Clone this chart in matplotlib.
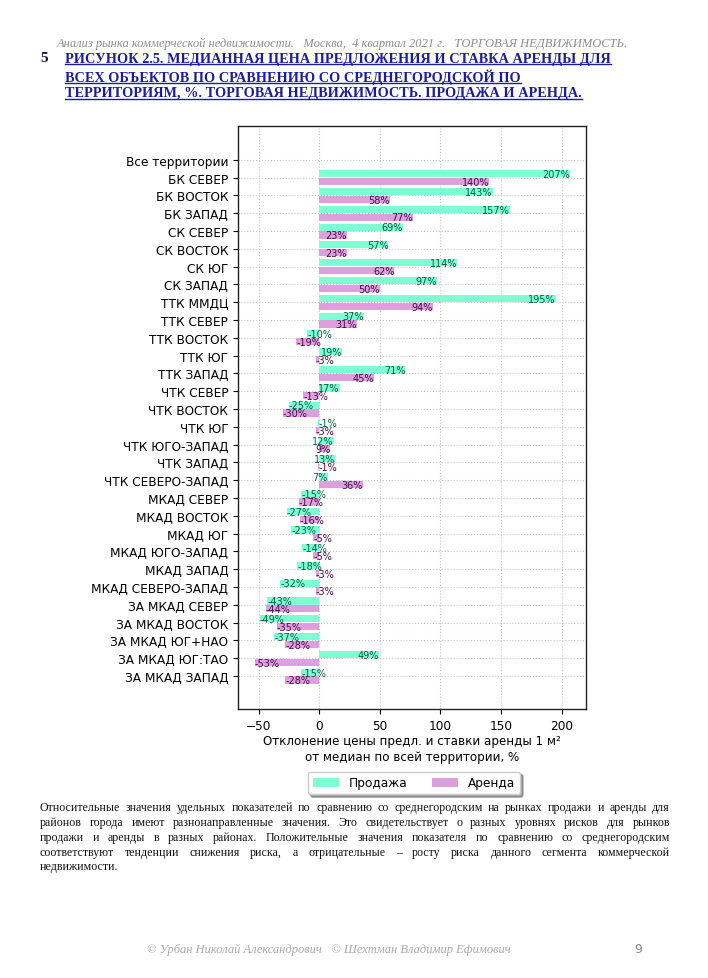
import numpy as np
import matplotlib
matplotlib.use("Agg")
import matplotlib.pyplot as plt
from matplotlib.lines import Line2D

categories = ["Все территории", "БК СЕВЕР", "БК ВОСТОК", "БК ЗАПАД", "СК СЕВЕР",
              "СК ВОСТОК", "СК ЮГ", "СК ЗАПАД", "ТТК ММДЦ", "ТТК СЕВЕР",
              "ТТК ВОСТОК", "ТТК ЮГ", "ТТК ЗАПАД", "ЧТК СЕВЕР", "ЧТК ВОСТОК",
              "ЧТК ЮГ", "ЧТК ЮГО-ЗАПАД", "ЧТК ЗАПАД", "ЧТК СЕВЕРО-ЗАПАД",
              "МКАД СЕВЕР", "МКАД ВОСТОК", "МКАД ЮГ", "МКАД ЮГО-ЗАПАД",
              "МКАД ЗАПАД", "МКАД СЕВЕРО-ЗАПАД", "ЗА МКАД СЕВЕР",
              "ЗА МКАД ВОСТОК", "ЗА МКАД ЮГ+НАО", "ЗА МКАД ЮГ:ТАО", "ЗА МКАД ЗАПАД"]
sale = [0, 207, 143, 157, 69, 57, 114, 97, 195, 37,
        -10, 19, 71, 17, -25, -1, 12, 13, 7,
        -15, -27, -23, -14, -18, -32, -43, -49, -37, 49, -15]
rent = [0, 140, 58, 77, 23, 23, 62, 50, 94, 31,
        -19, -3, 45, -13, -30, -3, 9, -1, 36,
        -17, -16, -5, -5, -3, -3, -44, -35, -28, -53, -28]
series_names = ["Продажа", "Аренда"]
xticks = [-50, 0, 50, 100, 150, 200]

header = "Анализ рынка коммерческой недвижимости.   Москва,  4 квартал 2021 г.   ТОРГОВАЯ НЕДВИЖИМОСТЬ."
title_lines = ["РИСУНОК 2.5. МЕДИАННАЯ ЦЕНА ПРЕДЛОЖЕНИЯ И СТАВКА АРЕНДЫ ДЛЯ",
               "ВСЕХ ОБЪЕКТОВ ПО СРАВНЕНИЮ СО СРЕДНЕГОРОДСКОЙ ПО",
               "ТЕРРИТОРИЯМ, %. ТОРГОВАЯ НЕДВИЖИМОСТЬ. ПРОДАЖА И АРЕНДА."]
para_lines = ["Относительные значения удельных показателей по сравнению со среднегородским на рынках продажи и аренды для",
              "районов города имеют разнонаправленные значения. Это свидетельствует о разных уровнях рисков для рынков",
              "продажи и аренды в разных районах. Положительные значения показателя по сравнению со среднегородским",
              "соответствуют тенденции снижения риска, а отрицательные – росту риска данного сегмента коммерческой",
              "недвижимости."]
footer = "© Урбан Николай Александрович   © Шехтман Владимир Ефимович"
page_no = "9"
xlabel = "Отклонение цены предл. и ставки аренды 1 м²\nот медиан по всей территории, %"

W, H = 708, 979
fig = plt.figure(figsize=(W / 100, H / 100), dpi=100)
fig.patch.set_facecolor("white")
renderer = fig.canvas.get_renderer()
SERIF = ["Liberation Serif", "DejaVu Serif"]


def fx(x):
    return x / W


def fy(y):
    return 1 - y / H


def width_px(t):
    return t.get_window_extent(renderer).width


# header
fig.text(fx(57), fy(44), header, family=SERIF, style="italic", fontsize=9,
         color="#8c8c8c", va="center", ha="left")

# title
TS = 10.3
fig.text(fx(40), fy(59), "5", family=SERIF, weight="bold", fontsize=11,
         color="#101040", va="center", ha="left")
for i, (line, yy) in enumerate(zip(title_lines, [59, 77, 94])):
    t = fig.text(fx(65), fy(yy), line, family=SERIF, weight="bold", fontsize=TS,
                 color="#1c1ca0", va="center", ha="left")
    bb = t.get_window_extent(renderer)
    uy = bb.y0 + 1
    fig.add_artist(Line2D([bb.x0 / W, bb.x1 / W], [uy / H, uy / H],
                          color="#1c1ca0", lw=1.0, transform=fig.transFigure))

# chart
ax = fig.add_axes([fx(238), fy(710), (586 - 238) / W, (710 - 127) / H])
y = np.arange(len(categories))
off, hgt = 0.22, 0.40
c_sale, c_rent = "#7FFFD4", "#DDA0DD"
ax.barh(y - off, sale, height=hgt, color=c_sale, label=series_names[0], zorder=2)
ax.barh(y + off, rent, height=hgt, color=c_rent, label=series_names[1], zorder=2)
for vals, dy, col in [(sale, -off, "#0a5c40"), (rent, off, "#4a0a4a")]:
    for yi, v in zip(y, vals):
        if v == 0:
            continue
        ax.text(v, yi + dy + 0.02, f"{v}%", fontsize=7, color=col,
                ha="right" if v > 0 else "left", va="center", zorder=3)
ax.set_xlim(-67, 220)
ax.set_ylim(len(categories) - 1 + 1.85, -1.9)
ax.set_yticks(y)
ax.set_yticklabels(categories, fontsize=8.7)
ax.set_xticks(xticks)
ax.tick_params(axis="x", labelsize=8.7)
ax.grid(True, ls=":", color="#c4c4c4", lw=0.8, zorder=0)
ax.set_axisbelow(True)
for s in ax.spines.values():
    s.set_color("#222222")
    s.set_linewidth(1.0)
ax.set_xlabel(xlabel, fontsize=8.6, labelpad=2, linespacing=1.25)

fig.legend(loc="center", bbox_to_anchor=(fx(414), fy(784)), ncol=2, fontsize=8.7,
           fancybox=True, shadow=True, framealpha=1, handlelength=2.2,
           columnspacing=2.0, borderpad=0.4)

# paragraph (justified)
x0, x1 = 40, 670
for i, (line, yy) in enumerate(zip(para_lines, [808, 823, 838, 853, 867])):
    words = line.split(" ")
    kw = dict(family=SERIF, fontsize=8.6, color="#111111", va="center", ha="left")
    if i == len(para_lines) - 1:
        fig.text(fx(x0), fy(yy), line, **kw)
        continue
    texts = [fig.text(0, fy(yy), w, **kw) for w in words]
    widths = [width_px(t) for t in texts]
    gap = (x1 - x0 - sum(widths)) / (len(words) - 1)
    x = x0
    for t, wd in zip(texts, widths):
        t.set_x(fx(x))
        x += wd + gap

# footer
fig.text(fx(147), fy(950), footer, family=SERIF, style="italic", fontsize=9,
         color="#a8a8a8", va="center", ha="left")
fig.text(fx(638), fy(950), page_no, family=["DejaVu Sans"], fontsize=9,
         color="#888888", va="center", ha="center")

fig.savefig("out.png", dpi=100, facecolor="white")
